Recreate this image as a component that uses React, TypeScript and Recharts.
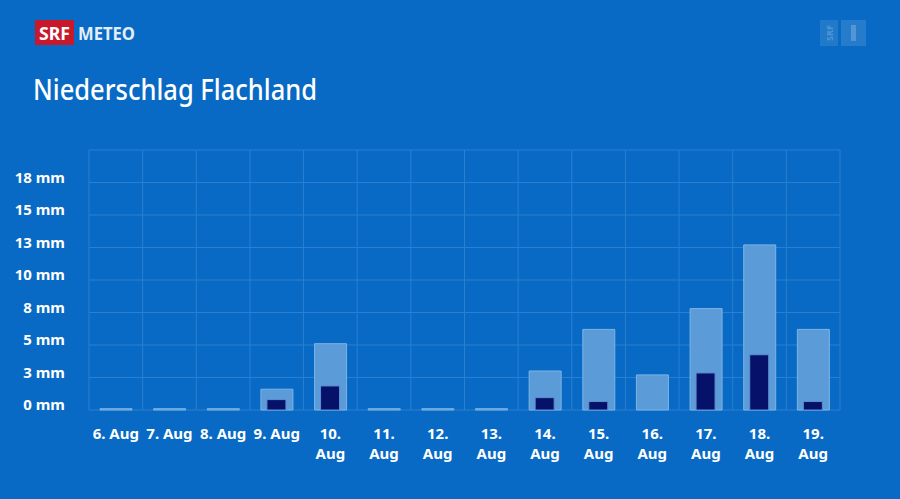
import React from "react";
import { BarChart, Bar, XAxis, YAxis, CartesianGrid } from "recharts";

// Niederschlag pro Tag (mm): obere Schätzung (hell) und wahrscheinliche Menge (dunkel)
const days = [
  "6. Aug", "7. Aug", "8. Aug", "9. Aug", "10. Aug", "11. Aug", "12. Aug",
  "13. Aug", "14. Aug", "15. Aug", "16. Aug", "17. Aug", "18. Aug", "19. Aug",
];
const upperRain = [0.1, 0.1, 0.1, 1.6, 5.1, 0.1, 0.1, 0.1, 3.0, 6.2, 2.7, 7.8, 12.7, 6.2];
const likelyRain = [0, 0, 0, 0.8, 1.85, 0, 0, 0, 0.95, 0.65, 0, 2.85, 4.25, 0.65];
const yTicks = [0, 2.5, 5, 7.5, 10, 12.5, 15, 17.5, 20];

const data = days.map((day, i) => ({
  day,
  upper: upperRain[i],
  likely: likelyRain[i],
}));

const BG = "#086AC4";
const GRID = "#2A7FD0";
const FONT = "'Noto Sans', sans-serif";

const YTick = (props: any) => {
  const { y, payload } = props;
  if (payload.value >= 20) return null;
  return (
    <text
      x={65}
      y={y - 6}
      textAnchor="end"
      dominantBaseline="central"
      fill="#ffffff"
      fontFamily={FONT}
      fontWeight={700}
      fontSize={15}
    >
      {Math.round(payload.value)} mm
    </text>
  );
};

const XTick = (props: any) => {
  const { x, payload } = props;
  const [d, m] = String(payload.value).split(" ");
  const twoLines = d.length > 2;
  return (
    <text
      x={x}
      y={433}
      textAnchor="middle"
      dominantBaseline="central"
      fill="#ffffff"
      fontFamily={FONT}
      fontWeight={700}
      fontSize={15}
    >
      {twoLines ? (
        <>
          <tspan x={x} dy={0}>{d}</tspan>
          <tspan x={x} dy={20}>{m}</tspan>
        </>
      ) : (
        payload.value
      )}
    </text>
  );
};

export default function App() {
  return (
    <div
      style={{
        position: "absolute",
        left: 0,
        top: 0,
        width: 900,
        height: 499,
        background: BG,
        overflow: "hidden",
      }}
    >
      <BarChart
        width={900}
        height={499}
        data={data}
        margin={{ top: 150, right: 60, bottom: 0, left: 0 }}
      >
        <CartesianGrid
          stroke={GRID}
          strokeWidth={1}
          verticalCoordinatesGenerator={({ offset }: any) =>
            Array.from({ length: days.length + 1 }, (_, k) => offset.left + (k * offset.width) / days.length)
          }
        />
        <XAxis
          xAxisId="upper"
          dataKey="day"
          axisLine={false}
          tickLine={false}
          interval={0}
          tick={<XTick />}
          height={89}
        />
        <XAxis xAxisId="likely" dataKey="day" hide />
        <YAxis
          domain={[0, 20]}
          ticks={yTicks}
          axisLine={false}
          tickLine={false}
          width={89}
          tick={<YTick />}
          interval={0}
        />
        <Bar
          xAxisId="upper"
          dataKey="upper"
          barSize={32}
          fill="#5B9BD8"
          stroke="#7DB4E6"
          strokeWidth={1}
          isAnimationActive={false}
        />
        <Bar
          xAxisId="likely"
          dataKey="likely"
          barSize={19}
          fill="#06126A"
          stroke="#5F8FD2"
          strokeWidth={1}
          isAnimationActive={false}
        />
      </BarChart>

      <svg
        width={900}
        height={130}
        style={{ position: "absolute", left: 0, top: 0, pointerEvents: "none" }}
      >
        <rect x={35} y={20} width={39} height={25} fill="#C8192C" />
        <text x={54.5} y={39.5} textAnchor="middle" fill="#ffffff" fontFamily={FONT} fontWeight={700} fontSize={17} textLength={31} lengthAdjust="spacingAndGlyphs">
          SRF
        </text>
        <text x={78} y={39.5} fill="#E4EEF9" fontFamily={FONT} fontWeight={700} fontSize={17} textLength={57} lengthAdjust="spacingAndGlyphs">
          METEO
        </text>

        <rect x={820} y={20} width={18} height={26} fill="#ffffff" fillOpacity={0.1} />
        <rect x={841} y={20} width={25} height={26} fill="#ffffff" fillOpacity={0.12} />
        <text x={0} y={0} transform="translate(833 33) rotate(-90)" textAnchor="middle" fill="#ffffff" fillOpacity={0.22} fontFamily={FONT} fontWeight={700} fontSize={9}>
          SRF
        </text>
        <rect x={851} y={25} width={5} height={16} fill="#ffffff" fillOpacity={0.2} />

        <text x={33} y={100} fill="#ffffff" fontFamily={FONT} fontWeight={500} fontSize={28} textLength={284} lengthAdjust="spacingAndGlyphs">
          Niederschlag Flachland
        </text>
      </svg>
    </div>
  );
}
